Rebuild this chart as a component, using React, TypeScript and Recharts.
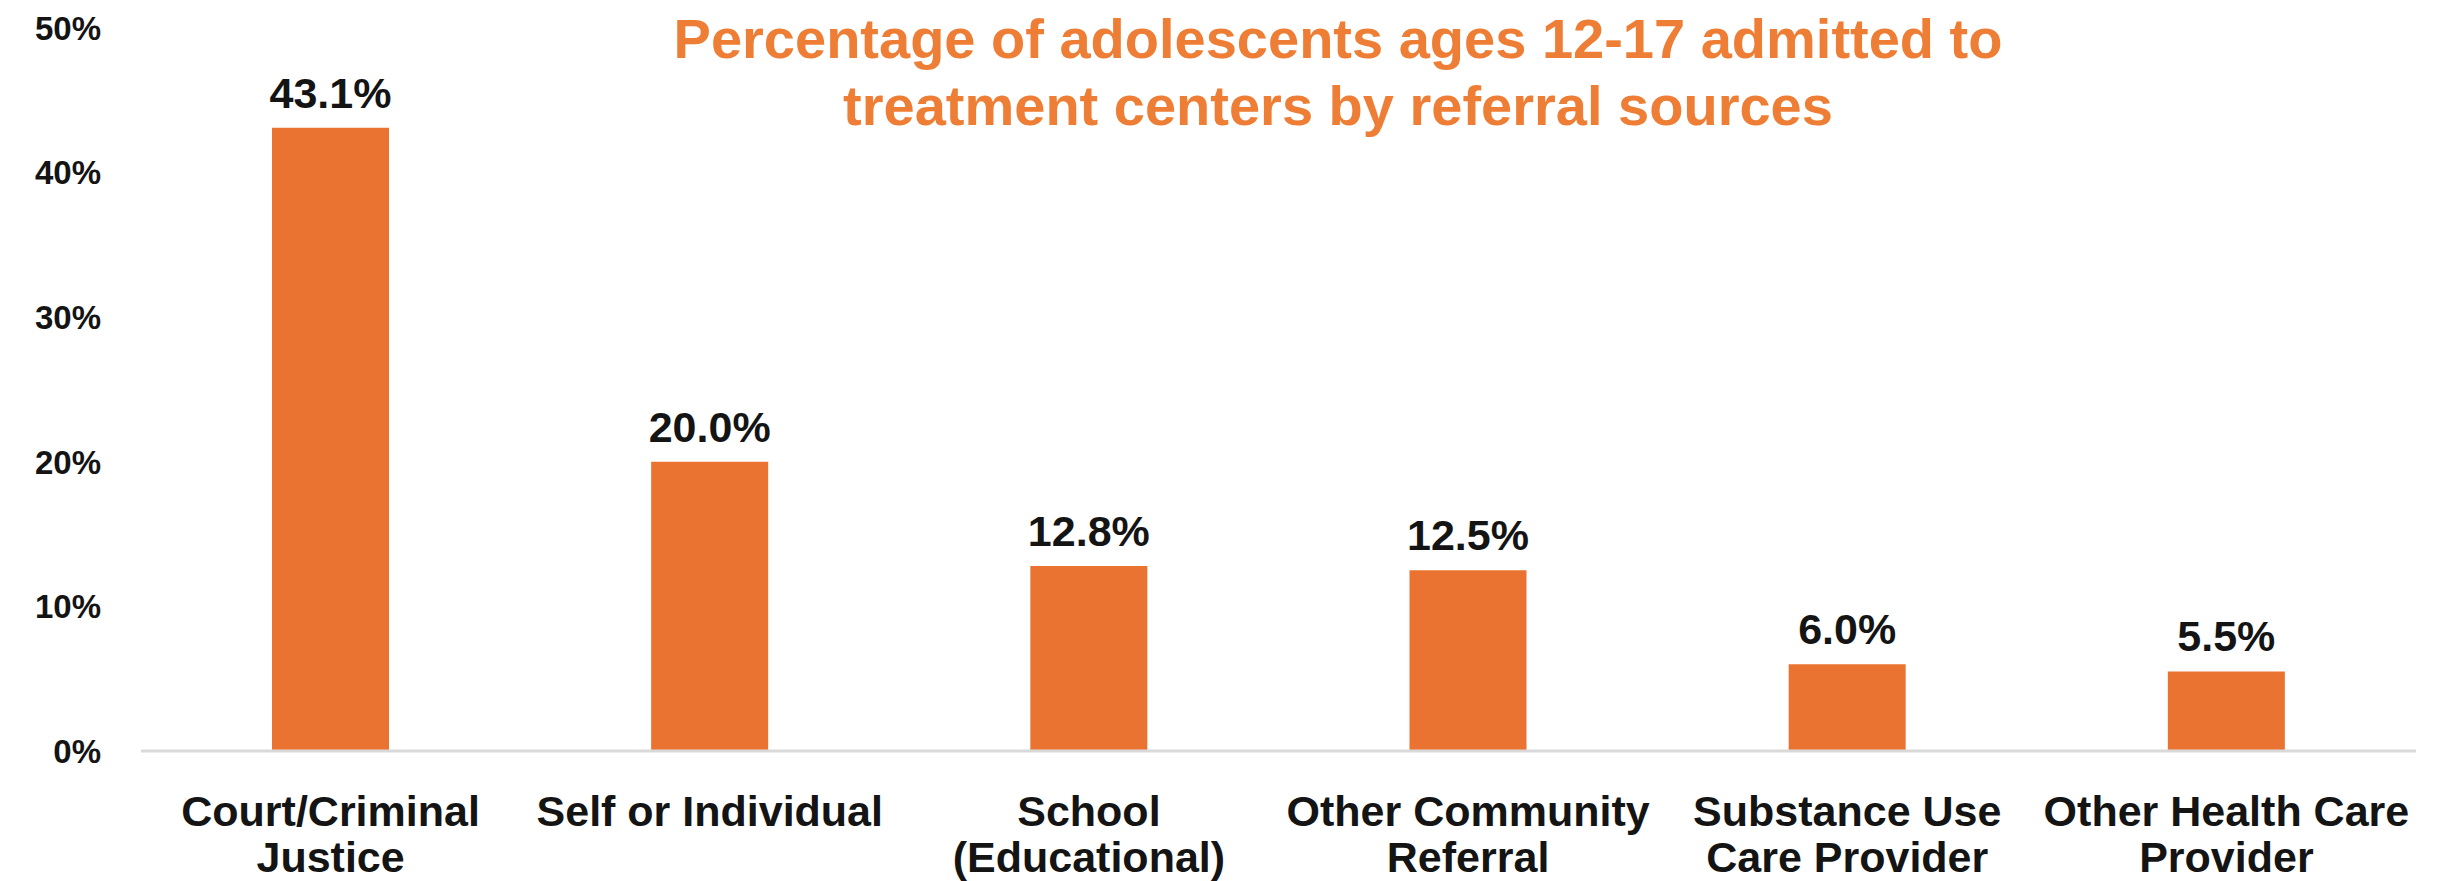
import { Bar, BarChart, LabelList, XAxis, YAxis } from "recharts";

// Referral sources (line breaks match the two-row axis labels)
const categories = [
  "Court/Criminal\nJustice",
  "Self or Individual",
  "School\n(Educational)",
  "Other Community\nReferral",
  "Substance Use\nCare Provider",
  "Other Health Care\nProvider",
];
const shares = [43.1, 20.0, 12.8, 12.5, 6.0, 5.5];
const yTicks = [0, 10, 20, 30, 40, 50];
const titleLines = [
  "Percentage of adolescents ages 12-17 admitted to",
  "treatment centers by referral sources",
];

const ORANGE = "#EA7332";
const TITLE_ORANGE = "#EE7E35";
const INK = "#141414";
const FONT = "'Liberation Sans', Arial, sans-serif";

const data = categories.map((name, i) => ({ name, value: shares[i] }));

function CategoryTick({ x, y, payload }: any) {
  const lines = String(payload.value).split("\n");
  return (
    <text textAnchor="middle" fill={INK} fontFamily={FONT} fontSize={43} fontWeight="bold">
      {lines.map((l, i) => (
        <tspan key={i} x={x} y={y + 75 + i * 46}>
          {l}
        </tspan>
      ))}
    </text>
  );
}

export default function App() {
  return (
    <div style={{ position: "relative", width: 2443, height: 881, background: "#fff" }}>
      <style>{`body{margin:0}`}</style>
      <div
        style={{
          position: "absolute",
          left: 1338 - 800,
          width: 1600,
          top: 0,
          textAlign: "center",
          color: TITLE_ORANGE,
          fontFamily: FONT,
          fontWeight: "bold",
          fontSize: 56,
          lineHeight: "67px",
          paddingTop: 5,
        }}
      >
        {titleLines.map((t) => (
          <div key={t}>{t}</div>
        ))}
      </div>
      <BarChart
        width={2443}
        height={881}
        data={data}
        margin={{ top: 28, right: 27, left: 0, bottom: 0 }}
      >
        <XAxis
          dataKey="name"
          interval={0}
          height={130}
          tickLine={false}
          tickSize={0}
          tickMargin={0}
          axisLine={{ stroke: "#D9D9D9", strokeWidth: 3 }}
          tick={<CategoryTick />}
        />
        <YAxis
          type="number"
          domain={[0, 50]}
          ticks={yTicks}
          width={141}
          axisLine={false}
          tickLine={false}
          tickSize={0}
          tickMargin={40}
          tickFormatter={(v: number) => `${v}%`}
          tick={{ fill: INK, fontFamily: FONT, fontSize: 33, fontWeight: "bold" }}
        />
        <Bar dataKey="value" fill={ORANGE} barSize={117} isAnimationActive={false}>
          <LabelList
            dataKey="value"
            position="top"
            offset={20}
            formatter={(v: any) => `${Number(v).toFixed(1)}%`}
            fill={INK}
            fontFamily={FONT}
            fontSize={43}
            fontWeight="bold"
          />
        </Bar>
      </BarChart>
    </div>
  );
}
